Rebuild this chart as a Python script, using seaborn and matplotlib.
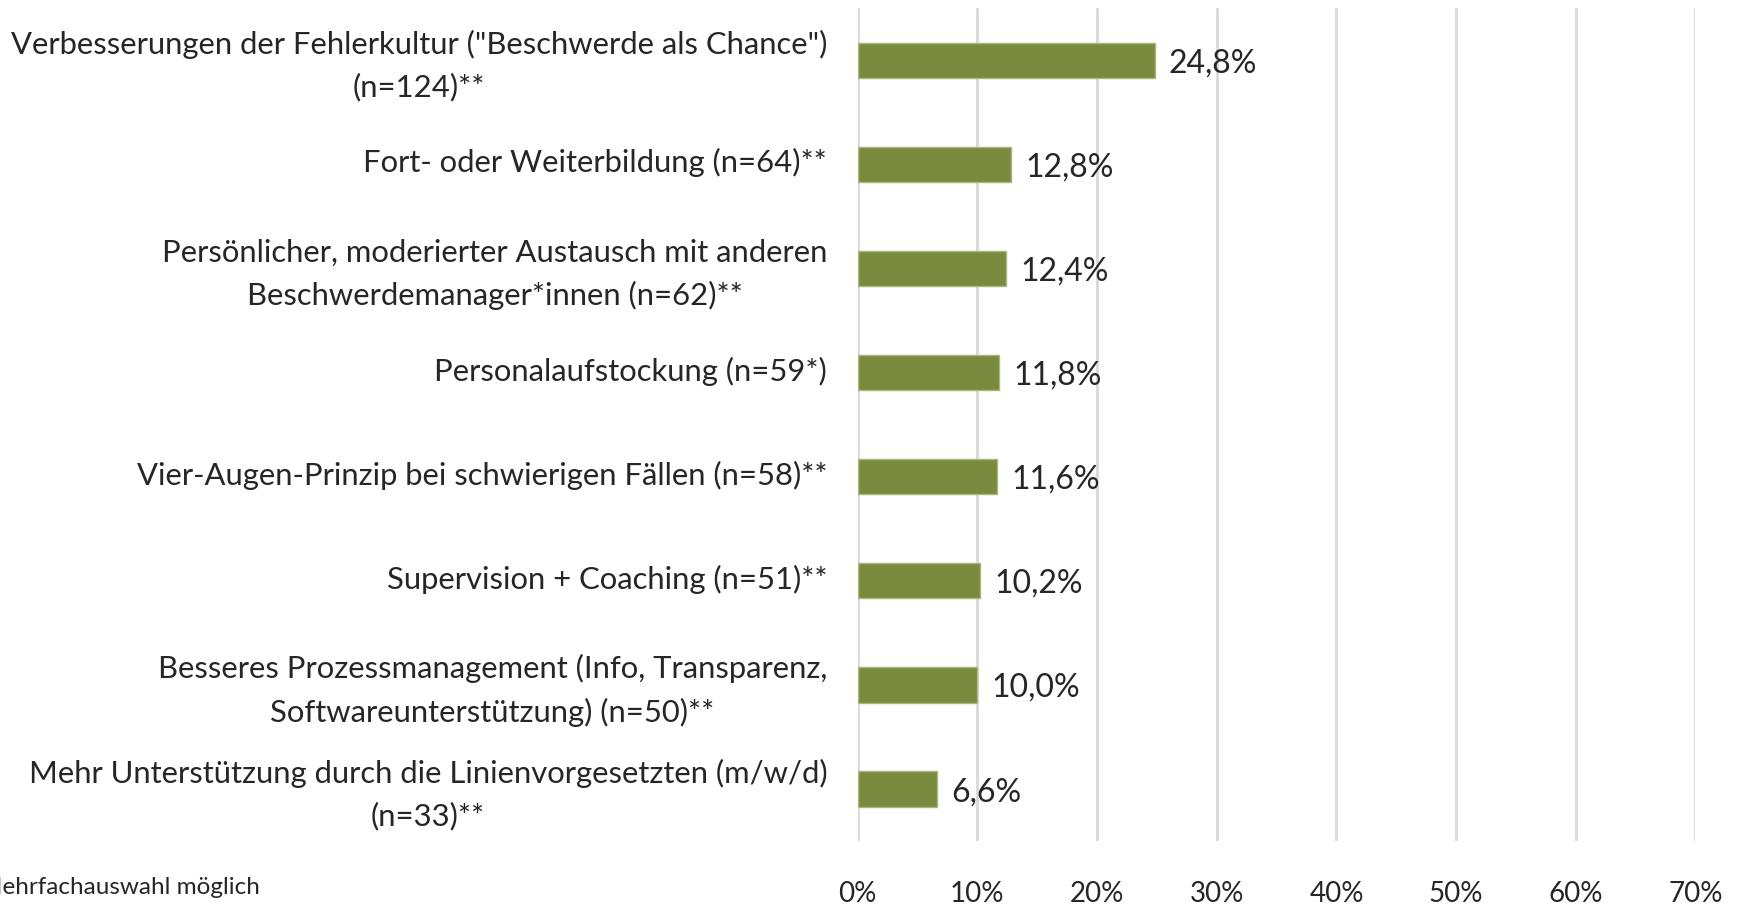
import numpy as np
import pandas as pd
import matplotlib.pyplot as plt
import matplotlib.transforms as mtransforms
import seaborn as sns

# Data
categories = [
    'Verbesserungen der Fehlerkultur ("Beschwerde als Chance")\n(n=124)**',
    'Fort- oder Weiterbildung (n=64)**',
    'Persönlicher, moderierter Austausch mit anderen\nBeschwerdemanager*innen (n=62)**',
    'Personalaufstockung (n=59*)',
    'Vier-Augen-Prinzip bei schwierigen Fällen (n=58)**',
    'Supervision + Coaching (n=51)**',
    'Besseres Prozessmanagement (Info, Transparenz,\nSoftwareunterstützung) (n=50)**',
    'Mehr Unterstützung durch die Linienvorgesetzten (m/w/d)\n(n=33)**',
]
values = [24.8, 12.8, 12.4, 11.8, 11.6, 10.2, 10.0, 6.6]
x_ticks = [0, 10, 20, 30, 40, 50, 60, 70]
footnote = 'Mehrfachauswahl möglich'

df = pd.DataFrame({'Kategorie': categories, 'Anteil': values})

sns.set_style('white')
plt.rcParams['font.family'] = ['Lato', 'DejaVu Sans']

fig = plt.figure(figsize=(17.42, 9.07), dpi=100)
ax = fig.add_axes([0.4924, 0.0728, 0.4809, 0.9182])

sns.barplot(data=df, x='Anteil', y='Kategorie', orient='h', color='#7A8B3F',
            saturation=1, width=0.34, edgecolor='#A9B77A', linewidth=1, ax=ax, zorder=3)

ax.set_xlim(0, 70)
ax.set_xticks(x_ticks)
ax.set_xticklabels([f'{t}%' for t in x_ticks], fontsize=20)
ax.grid(axis='x', color='#D9D9D9', linewidth=2, zorder=0)
ax.set_axisbelow(True)
ax.tick_params(axis='x', length=0, pad=29)
ax.tick_params(axis='y', length=0, pad=22, labelsize=22.3)
shift_up = mtransforms.ScaledTranslation(0, 4 / 100, fig.dpi_scale_trans)
for lab in ax.get_yticklabels():
    lab.set_multialignment('center')
    lab.set_linespacing(1.6)
    lab.set_transform(lab.get_transform() + shift_up)
ax.set_xlabel('')
ax.set_ylabel('')
for s in ax.spines.values():
    s.set_visible(False)

for i, v in enumerate(values):
    ax.text(v + 1.2, i + 0.03, f'{v:.1f}%'.replace('.', ','), va='center', ha='left', fontsize=23)

fig.text(260 / 1742, 1 - 887 / 907, footnote, ha='right', va='center', fontsize=17.5)

fig.savefig('out.png', dpi=100)
